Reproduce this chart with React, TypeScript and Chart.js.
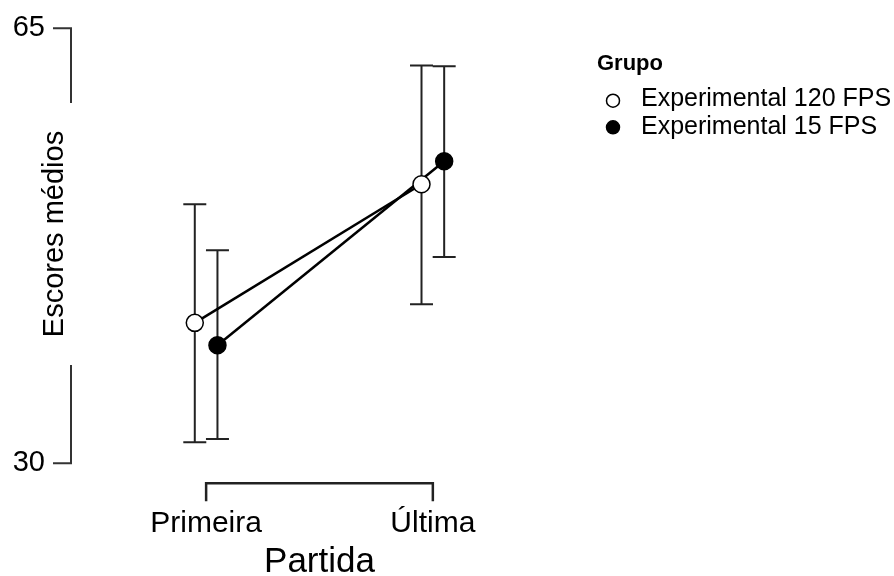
import React, { useEffect, useRef } from 'react';
import { Chart, registerables } from 'chart.js';

Chart.register(...registerables);

// ---- data ----
const categories = ['Primeira', 'Última'];
const groupNames = ['Experimental 120 FPS', 'Experimental 15 FPS'];
const legendTitle = 'Grupo';
const xTitle = 'Partida';
const yTitle = 'Escores médios';
const yTicks = [30, 65];

const mean120 = [41.3, 52.45];
const lower120 = [31.7, 42.8];
const upper120 = [50.85, 62.0];

const mean15 = [39.5, 54.3];
const lower15 = [31.95, 46.6];
const upper15 = [47.15, 61.95];

const dodge = [-0.05, 0.05];

const FONT = '"Liberation Sans", Arial, Helvetica, sans-serif';

const series = [
  { mean: mean120, lower: lower120, upper: upper120 },
  { mean: mean15, lower: lower15, upper: upper15 },
];

const decorPlugin = {
  id: 'jaspDecor',
  beforeDatasetsDraw(chart: any) {
    const ctx = chart.ctx;
    const xs = chart.scales.x;
    const ys = chart.scales.y;
    const capHalf = 11.5;
    ctx.save();
    ctx.strokeStyle = '#222';
    ctx.lineWidth = 2;
    series.forEach((s, g) => {
      categories.forEach((_, i) => {
        const px = xs.getPixelForValue(i + dodge[g]);
        const pl = ys.getPixelForValue(s.lower[i]);
        const ph = ys.getPixelForValue(s.upper[i]);
        ctx.beginPath();
        ctx.moveTo(px, pl);
        ctx.lineTo(px, ph);
        ctx.moveTo(px - capHalf, pl);
        ctx.lineTo(px + capHalf, pl);
        ctx.moveTo(px - capHalf, ph);
        ctx.lineTo(px + capHalf, ph);
        ctx.stroke();
      });
    });
    ctx.restore();
  },
  afterDraw(chart: any) {
    const ctx = chart.ctx;
    const xs = chart.scales.x;
    const ys = chart.scales.y;
    const area = chart.chartArea;
    ctx.save();
    ctx.strokeStyle = '#333';
    ctx.fillStyle = '#000';
    ctx.lineWidth = 2;

    // y axis (range frame, broken behind the title)
    const left = area.left;
    const yTop = ys.getPixelForValue(yTicks[yTicks.length - 1]);
    const yBot = ys.getPixelForValue(yTicks[0]);
    const titleCenterY = 234;
    const gapHalf = 131;
    ctx.beginPath();
    ctx.moveTo(left - 18, yTop);
    ctx.lineTo(left, yTop);
    ctx.lineTo(left, titleCenterY - gapHalf);
    ctx.moveTo(left, titleCenterY + gapHalf);
    ctx.lineTo(left, yBot);
    ctx.lineTo(left - 18, yBot);
    ctx.stroke();

    ctx.font = `29px ${FONT}`;
    ctx.textAlign = 'right';
    ctx.textBaseline = 'middle';
    yTicks.forEach((t) => {
      ctx.fillText(String(t), left - 26, ys.getPixelForValue(t));
    });

    ctx.save();
    ctx.translate(63, titleCenterY);
    ctx.rotate(-Math.PI / 2);
    ctx.textAlign = 'center';
    ctx.textBaseline = 'alphabetic';
    ctx.font = `29px ${FONT}`;
    ctx.fillText(yTitle, 0, 0);
    ctx.restore();

    // x axis bracket
    const x0 = xs.getPixelForValue(0);
    const x1 = xs.getPixelForValue(categories.length - 1);
    const yl = area.bottom + 20;
    ctx.strokeStyle = '#222';
    ctx.lineWidth = 2.5;
    ctx.beginPath();
    ctx.moveTo(x0, yl + 18);
    ctx.lineTo(x0, yl);
    ctx.lineTo(x1, yl);
    ctx.lineTo(x1, yl + 18);
    ctx.stroke();

    ctx.font = `30px ${FONT}`;
    ctx.textAlign = 'center';
    ctx.textBaseline = 'alphabetic';
    categories.forEach((c, i) => {
      ctx.fillText(c, xs.getPixelForValue(i), area.bottom + 68.5);
    });
    ctx.font = `35px ${FONT}`;
    ctx.fillText(xTitle, (x0 + x1) / 2, 572);

    // legend
    ctx.textAlign = 'left';
    ctx.font = `bold 22px ${FONT}`;
    ctx.fillText(legendTitle, 597, 70);
    ctx.font = `25px ${FONT}`;
    const rows = [
      { cy: 100.7, base: 105.5 },
      { cy: 127.3, base: 133.5 },
    ];
    groupNames.forEach((name, g) => {
      const r = rows[g];
      ctx.beginPath();
      ctx.arc(613, r.cy, 6.5, 0, Math.PI * 2);
      ctx.fillStyle = g === 0 ? '#fff' : '#000';
      ctx.fill();
      ctx.lineWidth = 1.5;
      ctx.strokeStyle = '#000';
      ctx.stroke();
      ctx.fillStyle = '#000';
      ctx.fillText(name, 641, r.base);
    });
    ctx.restore();
  },
};

export default function App() {
  const canvasRef = useRef<HTMLCanvasElement | null>(null);

  useEffect(() => {
    const canvas = canvasRef.current;
    if (!canvas) return;
    const datasets = series.map((s, g) => ({
      label: groupNames[g],
      data: s.mean.map((m, i) => ({ x: i + dodge[g], y: m })),
      borderColor: '#000',
      borderWidth: 2.5,
      pointRadius: 8.5,
      pointBorderWidth: 1.5,
      pointBackgroundColor: g === 0 ? '#fff' : '#000',
      pointBorderColor: '#000',
      fill: false,
      tension: 0,
      clip: false as any,
    }));
    const chart = new Chart(canvas, {
      type: 'line',
      data: { datasets },
      options: {
        responsive: false,
        animation: false,
        events: [],
        layout: { padding: { left: 71, right: 414, top: 28.3, bottom: 112.7 } },
        plugins: { legend: { display: false }, tooltip: { enabled: false } },
        scales: {
          x: { type: 'linear', min: -0.596, max: 1.208, display: false },
          y: { type: 'linear', min: yTicks[0], max: yTicks[yTicks.length - 1], display: false },
        },
      },
      plugins: [decorPlugin],
    });
    return () => chart.destroy();
  }, []);

  return (
    <div style={{ position: 'fixed', left: 0, top: 0, width: 894, height: 576, background: '#fff' }}>
      <canvas ref={canvasRef} width={894} height={576} />
    </div>
  );
}
